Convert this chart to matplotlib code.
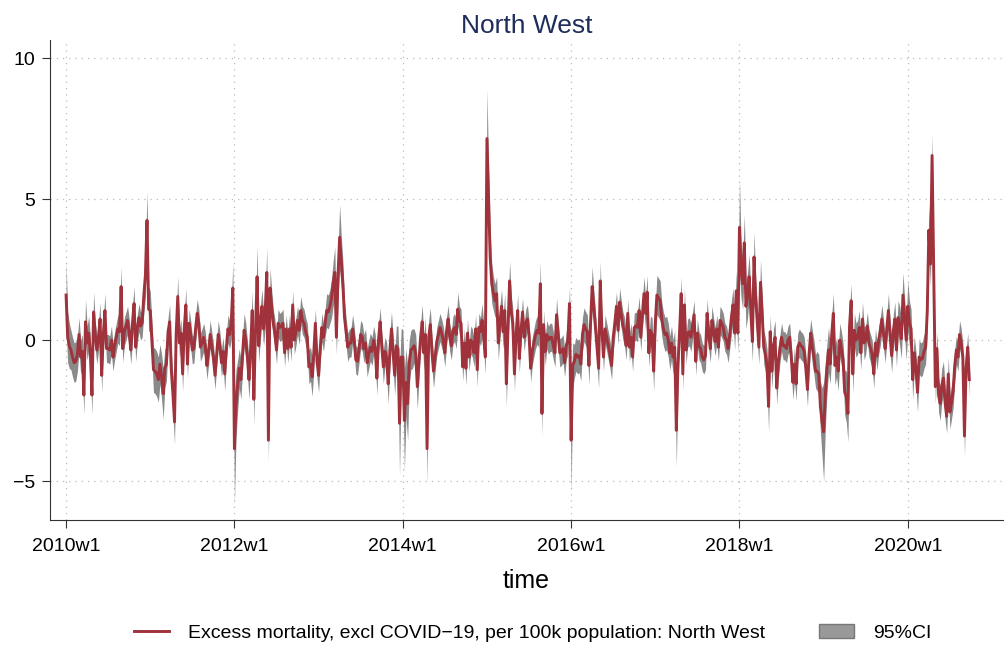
import matplotlib
matplotlib.use("Agg")
import matplotlib.pyplot as plt
from matplotlib.lines import Line2D
from matplotlib.patches import Patch
import numpy as np

plt.rcParams['font.family'] = ['Liberation Sans', 'DejaVu Sans']

# Weekly excess mortality per 100k (Stata weeks, 52 per year)
y2010 = [1.6, 0.1, -0.2, -0.35, -0.6, -0.8, -0.75, -0.5, 0.2, -0.6, -0.4, -1.95, 0.65,
         -0.1, 0.25, -0.5, -1.95, 1.0, 0.2, -0.35, 0.1, 0.75, -1.25, 0.2, 1.05, -0.3,
         -0.3, -0.35, 0.0, -0.6, -0.2, 0.1, 0.4, 0.3, 1.9, -0.3, 0.3, 0.5, 0.7,
         0.25, -0.35, 0.6, 1.3, -0.25, 0.4, 0.8, 0.5, 0.6, 1.55, 2.3, 4.25, 1.1]
y2011 = [1.05, 0.0, -1.05, -1.1, -1.2, -1.4, -0.85, -1.3, -1.9, -1.0, -0.85, 0.3, 0.65,
         -1.05, -1.9, -2.9, 0.2, 1.55, -0.1, 0.25, -1.2, 0.4, 1.25, -0.85, 0.6, 0.2,
         -0.35, -0.3, 0.4, 0.95, 0.6, -0.25, -0.1, 0.1, -0.2, -0.9, -0.4, 0.2, -0.2,
         -0.6, -1.25, -0.5, 0.2, -0.2, -0.8, -0.4, -1.2, -0.3, 0.4, 0.2, 0.6, 1.85]
y2012 = [-3.85, -2.25, -1.6, -1.0, -1.4, -0.5, 0.35, 0.0, -0.6, -1.4, -0.3, 1.05, -2.1,
         0.3, 2.25, -0.2, 0.6, 1.2, 0.4, 1.0, 2.4, -3.55, 1.85, 1.2, 0.6, 0.25,
         -0.35, 0.6, 0.45, 0.5, 0.6, -0.45, 0.4, -0.3, 0.4, -0.25, 1.25, 0.0, 0.3,
         0.7, 0.35, 1.05, 0.7, 0.6, 0.3, 0.1, -0.95, -0.85, -1.3, -0.5, 0.6, -0.75]
y2013 = [-1.25, -0.3, 0.45, 0.1, 0.6, 1.05, 1.0, 1.2, 1.5, 2.0, 2.4, 0.1, 2.3,
         3.65, 2.8, 2.0, 0.8, 0.3, -0.25, -0.1, -0.1, 0.4, 0.0, -0.7, -0.75, -0.3,
         0.2, 0.1, -0.3, -0.1, -0.8, -0.5, -0.25, -0.4, 0.0, -0.3, -1.35, 0.0, 0.65,
         -0.2, -0.95, -0.4, -0.65, -1.55, -0.4, 0.4, -0.4, -1.25, -0.2, -0.3, -2.95, -0.6]
y2014 = [-0.6, -2.85, -1.5, -2.25, -0.8, -0.35, -0.3, -0.2, -0.5, -1.65, -0.75, 0.1, 0.65,
         -0.45, 0.2, -3.85, 0.1, 0.55, -0.4, -1.1, -0.6, -0.05, 0.2, 0.45, 0.25, 0.0,
         -0.45, 0.3, 0.75, 0.1, -0.2, 0.35, 0.45, 0.2, 1.1, 0.7, 0.6, -0.95, -0.1,
         -1.0, 0.25, -0.6, 0.0, -0.1, -0.45, 0.4, -1.05, 0.45, 0.3, 0.7, 0.1, -0.6]
y2015 = [7.15, 5.0, 2.95, 2.0, 1.65, 1.4, 1.65, -0.1, 0.6, 1.2, 0.3, 1.05, -1.55,
         0.4, 2.1, 1.0, 0.6, -1.2, 0.2, 1.05, -0.65, 0.3, 1.0, 0.1, 0.6, 0.75,
         0.2, -1.0, -0.4, -0.1, 0.2, 0.35, 0.25, 2.0, -2.6, 0.55, -0.4, 0.2, 0.0,
         0.1, 0.1, -0.2, -0.45, 0.9, 0.2, -0.45, -0.4, -0.3, -0.8, -0.2, 0.0, 1.3]
y2016 = [-3.55, -0.9, -0.75, -0.5, -0.6, -0.55, -0.85, 0.2, 0.55, 0.4, 0.3, -0.9, 0.6,
         1.9, 1.2, 0.45, -0.3, -1.0, 2.1, 0.4, -0.6, 0.4, 0.1, -0.2, -0.5, -0.9,
         0.1, 0.6, 1.2, 0.35, 1.35, 0.9, 0.5, 0.3, -0.2, 0.95, -0.25, 0.1, -0.6,
         0.45, 0.5, 0.45, 1.05, 0.1, 0.9, 1.65, 0.95, 1.7, -0.45, 0.35, 0.2, -1.1]
y2017 = [0.6, 1.6, 1.5, 1.4, 0.75, 0.4, 0.2, 0.25, 0.0, -0.45, -0.1, -0.6, -0.25,
         -3.2, -0.85, 0.3, 1.65, -1.2, 1.25, -0.35, 0.25, 0.3, 0.1, 0.5, 0.9, -0.75,
         0.25, -0.2, -0.3, -0.6, -0.7, -0.55, 0.95, 0.2, -0.3, 0.7, 0.3, -0.05, 0.4,
         -0.25, 0.7, 0.6, 0.45, 0.1, 0.0, -0.3, 0.2, 0.8, 1.25, 0.25, 1.75, 0.25]
y2018 = [4.0, 2.5, 2.0, 3.45, 1.2, 1.6, 2.25, 1.0, -0.05, 2.95, 1.5, 0.6, -0.25,
         2.05, 1.0, -0.25, -0.5, -0.9, -2.35, 0.3, -1.1, -0.2, 0.1, -1.7, -0.8, -0.3,
         0.1, -0.2, -0.2, -0.3, 0.0, 0.1, -0.6, -1.5, -0.85, -1.55, -0.25, -0.1, -0.2,
         -0.25, -0.4, -1.0, -1.75, -0.5, 0.25, -0.25, -0.6, -1.1, -1.1, -1.2, -2.35, -2.9]
y2019 = [-3.25, -2.0, -1.05, -0.35, -0.85, 0.2, 0.95, -0.9, -0.6, -1.1, 0.0, -0.3, -0.7,
         -1.85, -2.0, -2.6, 0.5, 1.4, -1.2, 0.35, 0.0, 0.1, 0.45, -0.45, 0.75, -0.1,
         0.0, 0.5, -0.1, -0.3, -0.5, -1.2, -0.1, -0.55, 0.0, 0.3, 0.75, 0.2, -0.3,
         0.4, 1.05, 0.2, -0.55, 0.3, 0.75, -0.35, 0.8, 0.5, 0.05, 1.6, 0.8, 0.0]
y2020 = [1.2, 0.6, 0.4, -1.4, -0.45, -1.0, -1.85, -0.6, -0.7, -0.65, -0.4, -0.25, 1.0,
         3.9, 2.7, 6.55, 2.5, -1.65, -0.3, -1.95, -2.25, -1.6, -1.35, -2.2, -2.7, -1.2,
         -2.55, -2.2, -1.8, -0.9, -0.35, -0.6, 0.2, -0.1, -0.6, -3.4, -1.0, -0.25, -1.4]

# Half-width of the 95% CI per week
h2010 = [1.2, 0.9, 0.8, 0.7, 0.7, 0.7, 0.7, 0.6, 0.6, 0.6, 0.6, 0.7, 0.8,
         0.6, 0.6, 0.6, 0.7, 0.7, 0.5, 0.5, 0.5, 0.6, 0.6, 0.5, 0.6, 0.5,
         0.5, 0.5, 0.5, 0.5, 0.5, 0.5, 0.5, 0.5, 0.7, 0.5, 0.5, 0.5, 0.5,
         0.5, 0.5, 0.6, 0.6, 0.5, 0.5, 0.5, 0.5, 0.5, 0.6, 0.8, 1.05, 0.8]
h2011 = [0.7, 0.7, 0.8, 0.8, 0.8, 0.8, 0.7, 0.8, 0.9, 0.7, 0.6, 0.5, 0.6,
         0.6, 0.7, 0.8, 0.6, 0.7, 0.5, 0.5, 0.6, 0.5, 0.6, 0.5, 0.5, 0.5,
         0.5, 0.5, 0.5, 0.5, 0.5, 0.5, 0.5, 0.5, 0.5, 0.5, 0.5, 0.5, 0.5,
         0.5, 0.5, 0.5, 0.5, 0.5, 0.5, 0.5, 0.6, 0.5, 0.5, 0.5, 0.6, 0.9]
h2012 = [1.95, 1.2, 0.9, 0.7, 0.7, 0.6, 0.6, 0.6, 0.6, 0.7, 0.6, 0.7, 0.9,
         0.6, 1.1, 0.6, 0.6, 0.6, 0.6, 0.6, 0.9, 0.8, 0.7, 0.6, 0.5, 0.5,
         0.5, 0.5, 0.5, 0.5, 0.5, 0.5, 0.5, 0.5, 0.5, 0.5, 0.5, 0.5, 0.5,
         0.5, 0.5, 0.5, 0.5, 0.5, 0.5, 0.5, 0.6, 0.6, 0.7, 0.6, 0.5, 0.6]
h2013 = [0.6, 0.5, 0.5, 0.5, 0.5, 0.6, 0.6, 0.6, 0.7, 0.8, 0.9, 0.6, 0.8,
         1.15, 0.9, 0.8, 0.6, 0.5, 0.5, 0.5, 0.5, 0.5, 0.5, 0.5, 0.5, 0.5,
         0.5, 0.5, 0.5, 0.5, 0.5, 0.5, 0.5, 0.5, 0.5, 0.5, 0.6, 0.5, 0.5,
         0.5, 0.6, 0.5, 0.6, 0.7, 0.6, 0.6, 0.6, 0.7, 0.7, 0.8, 1.85, 1.0]
h2014 = [1.0, 1.8, 1.2, 1.3, 0.8, 0.7, 0.7, 0.6, 0.7, 0.8, 0.6, 0.5, 0.6,
         0.6, 0.6, 1.25, 0.6, 0.6, 0.6, 0.6, 0.5, 0.5, 0.5, 0.5, 0.5, 0.5,
         0.5, 0.5, 0.5, 0.5, 0.5, 0.5, 0.5, 0.5, 0.6, 0.5, 0.5, 0.5, 0.5,
         0.6, 0.5, 0.5, 0.5, 0.5, 0.5, 0.5, 0.6, 0.5, 0.5, 0.6, 0.5, 0.6]
h2015 = [1.75, 1.2, 0.9, 0.7, 0.6, 0.6, 0.6, 0.6, 0.6, 0.6, 0.6, 0.6, 0.8,
         0.6, 0.7, 0.6, 0.5, 0.6, 0.5, 0.6, 0.5, 0.5, 0.5, 0.5, 0.5, 0.5,
         0.5, 0.5, 0.5, 0.5, 0.5, 0.5, 0.5, 0.8, 0.8, 0.5, 0.5, 0.5, 0.5,
         0.5, 0.5, 0.5, 0.5, 0.6, 0.5, 0.5, 0.5, 0.5, 0.5, 0.5, 0.5, 0.6]
h2016 = [1.9, 0.8, 0.6, 0.6, 0.6, 0.6, 0.6, 0.6, 0.6, 0.6, 0.6, 0.7, 0.6,
         0.7, 0.6, 0.6, 0.6, 0.7, 0.7, 0.5, 0.5, 0.5, 0.5, 0.5, 0.5, 0.5,
         0.5, 0.5, 0.5, 0.5, 0.5, 0.5, 0.5, 0.5, 0.5, 0.5, 0.5, 0.5, 0.5,
         0.5, 0.5, 0.5, 0.5, 0.5, 0.5, 0.6, 0.6, 0.6, 0.5, 0.5, 0.6, 0.7]
h2017 = [0.6, 0.7, 0.7, 0.7, 0.6, 0.6, 0.6, 0.6, 0.6, 0.6, 0.6, 0.6, 0.6,
         1.3, 0.7, 0.6, 0.6, 0.6, 0.6, 0.5, 0.5, 0.5, 0.5, 0.5, 0.5, 0.5,
         0.5, 0.5, 0.5, 0.5, 0.5, 0.5, 0.5, 0.5, 0.5, 0.5, 0.5, 0.5, 0.5,
         0.5, 0.5, 0.5, 0.5, 0.5, 0.5, 0.5, 0.5, 0.6, 0.6, 0.6, 0.7, 0.7]
h2018 = [1.7, 1.0, 0.9, 1.0, 0.8, 0.8, 0.8, 0.7, 0.7, 0.9, 0.7, 0.7, 0.6,
         0.8, 0.6, 0.6, 0.6, 0.6, 0.9, 0.6, 0.6, 0.6, 0.6, 0.6, 0.6, 0.5,
         0.5, 0.5, 0.5, 0.5, 0.5, 0.5, 0.5, 0.6, 0.6, 0.6, 0.5, 0.5, 0.5,
         0.5, 0.5, 0.5, 0.6, 0.6, 0.5, 0.6, 0.6, 0.6, 0.7, 0.7, 0.9, 1.2]
h2019 = [1.75, 1.2, 0.9, 0.8, 0.7, 0.7, 0.7, 0.7, 0.7, 0.7, 0.6, 0.6, 0.6,
         0.8, 0.9, 1.0, 0.6, 0.6, 0.7, 0.6, 0.6, 0.6, 0.6, 0.6, 0.6, 0.6,
         0.5, 0.5, 0.5, 0.5, 0.5, 0.5, 0.5, 0.5, 0.5, 0.5, 0.5, 0.5, 0.5,
         0.5, 0.6, 0.6, 0.6, 0.6, 0.6, 0.6, 0.6, 0.7, 0.7, 0.8, 0.7, 0.7]
h2020 = [0.9, 0.8, 0.7, 0.7, 0.6, 0.6, 0.7, 0.6, 0.6, 0.6, 0.6, 0.6, 0.7,
         0.9, 0.8, 0.75, 0.7, 0.6, 0.6, 0.6, 0.6, 0.6, 0.6, 0.6, 0.6, 0.6,
         0.6, 0.6, 0.6, 0.6, 0.5, 0.5, 0.5, 0.5, 0.5, 0.7, 0.6, 0.5, 0.6]

years = [2010, 2012, 2014, 2016, 2018, 2020]
tick_labels = [f"{yr}w1" for yr in years]

excess = np.array(y2010 + y2011 + y2012 + y2013 + y2014 + y2015 + y2016
                  + y2017 + y2018 + y2019 + y2020)
half = np.array(h2010 + h2011 + h2012 + h2013 + h2014 + h2015 + h2016
                + h2017 + h2018 + h2019 + h2020)
week = np.arange(len(excess))  # weeks since 2010w1

fig = plt.figure(figsize=(10.05, 6.48), dpi=100)
ax = fig.add_axes([0.0498, 0.1975, 0.9482, 0.7405])

grey = '#8a8a8a'
red = '#a0323c'

ax.fill_between(week, excess - half, excess + half, color=grey, linewidth=0)
ax.plot(week, excess, color=red, linewidth=2.1)

ax.set_xlim(-9.9, 578.8)
ax.set_ylim(-6.38, 10.64)

ax.set_yticks([-5, 0, 5, 10])
ax.set_yticklabels(['\u22125', '0', '5', '10'], fontsize=14)
ax.set_xticks([(yr - 2010) * 52 for yr in years])
ax.set_xticklabels(tick_labels, fontsize=14)
ax.tick_params(direction='out', length=6, width=0.8, color='#333333')
ax.tick_params(axis='x', pad=7)
ax.tick_params(axis='y', pad=5)

ax.grid(True, linestyle=(0, (1, 4)), color='#bbbbbb', linewidth=0.9)
ax.set_axisbelow(True)

for side in ['top', 'right']:
    ax.spines[side].set_visible(False)
for side in ['left', 'bottom']:
    ax.spines[side].set_color('#333333')
    ax.spines[side].set_linewidth(0.8)

ax.set_xlabel('time', fontsize=18, labelpad=10)
ax.set_title('North West', fontsize=19, color='#1f2d5a', pad=5)

handles = [Line2D([0], [0], color=red, linewidth=2.1),
           Patch(facecolor='#999999', edgecolor='#777777')]
labels = ['Excess mortality, excl COVID\u221219, per 100k population: North West', '95%CI']
fig.legend(handles, labels, loc='center', bbox_to_anchor=(0.53, 0.023),
           ncol=2, frameon=False, fontsize=14, columnspacing=2.8,
           handlelength=1.8, handletextpad=0.95)

fig.savefig('out.png', dpi=100)
